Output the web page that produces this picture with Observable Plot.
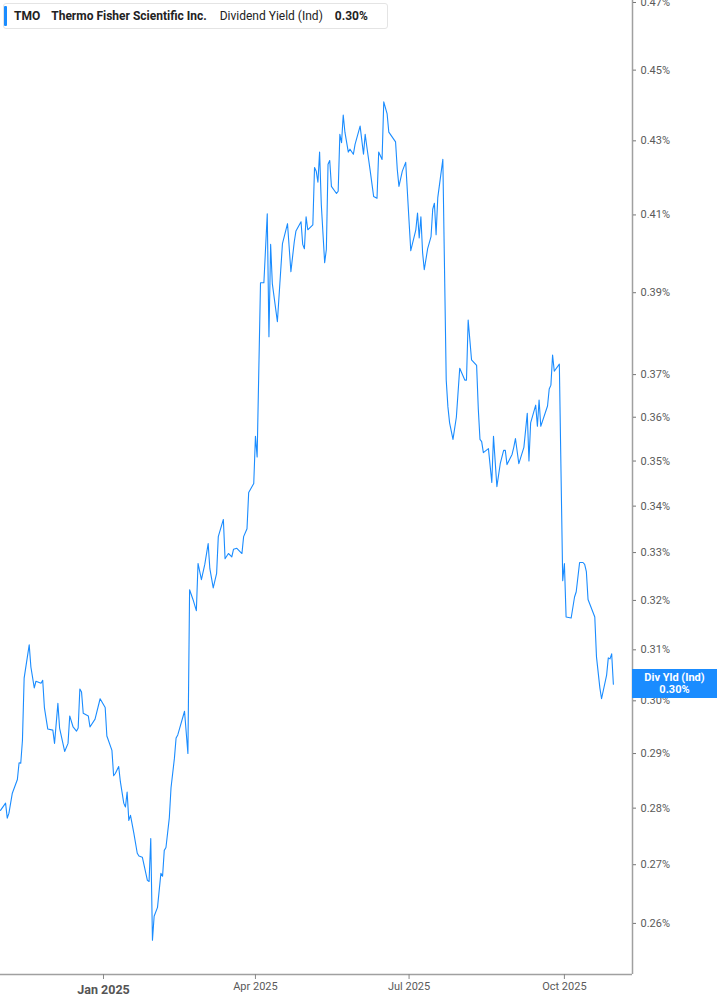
<!DOCTYPE html>
<html>
<head>
<meta charset="utf-8">
<script src="https://cdn.jsdelivr.net/npm/d3@7"></script>
<script src="https://cdn.jsdelivr.net/npm/@observablehq/plot@0.6"></script>
<style>
  html, body { margin: 0; padding: 0; background: #fff; }
  #wrap { position: relative; width: 717px; height: 1005px; font-family: Roboto, "Noto Sans", sans-serif; }
  #header { position: absolute; left: 3px; top: 3px; width: 385px; height: 26px; box-sizing: border-box;
    border: 1px solid #e4e4e4; border-radius: 3px; background: #fff; font-size: 12px; color: #222;
    display: flex; align-items: center; white-space: nowrap; }
  #header .bar { position: absolute; left: 0; top: 2px; bottom: 2px; width: 3px; background: #1a8cff; border-radius: 1px; }
  #header span { display: inline-block; }
  #badge { position: absolute; left: 632px; width: 85px; height: 29px; background: #1a8cff; color: #fff;
    font-size: 11px; font-weight: bold; text-align: center; line-height: 12px; box-sizing: border-box; padding-top: 3px; }
</style>
</head>
<body>
<div id="wrap">
  <div id="chart"></div>
  <div id="header"><div class="bar"></div>
    <span style="margin-left:10px;font-weight:bold">TMO</span>
    <span style="margin-left:11px;font-weight:bold">Thermo Fisher Scientific Inc.</span>
    <span style="margin-left:13px">Dividend Yield (Ind)</span>
    <span style="margin-left:12px;font-weight:bold">0.30%</span>
  </div>
  <div id="badge">Div Yld (Ind)<br>0.30%</div>
</div>
<script>
const dates = [
"2024-11-01","2024-11-04","2024-11-05","2024-11-06","2024-11-08","2024-11-11","2024-11-12","2024-11-13","2024-11-14","2024-11-15",
"2024-11-18","2024-11-19","2024-11-21","2024-11-22","2024-11-25","2024-11-26","2024-11-27","2024-11-29","2024-12-02","2024-12-03",
"2024-12-05","2024-12-06","2024-12-09","2024-12-11","2024-12-12","2024-12-14","2024-12-16","2024-12-17","2024-12-18","2024-12-19",
"2024-12-20","2024-12-23","2024-12-24","2024-12-27","2024-12-30","2025-01-02","2025-01-03","2025-01-06","2025-01-07","2025-01-08",
"2025-01-10","2025-01-11","2025-01-13","2025-01-14","2025-01-15","2025-01-16","2025-01-17","2025-01-19","2025-01-21","2025-01-22",
"2025-01-24","2025-01-27","2025-01-28","2025-01-29","2025-01-30","2025-01-31","2025-02-02","2025-02-04","2025-02-05","2025-02-06",
"2025-02-07","2025-02-09","2025-02-10","2025-02-12","2025-02-13","2025-02-14","2025-02-18","2025-02-20","2025-02-21","2025-02-23",
"2025-02-25","2025-02-26","2025-02-28","2025-03-02","2025-03-04","2025-03-05","2025-03-07","2025-03-09","2025-03-10","2025-03-13",
"2025-03-14","2025-03-16","2025-03-18","2025-03-19","2025-03-21","2025-03-24","2025-03-25","2025-03-27","2025-03-28","2025-03-31",
"2025-04-01","2025-04-02","2025-04-04","2025-04-06","2025-04-08","2025-04-09","2025-04-10","2025-04-11","2025-04-14","2025-04-17",
"2025-04-20","2025-04-22","2025-04-24","2025-04-25","2025-04-28","2025-04-29","2025-04-30","2025-05-01","2025-05-02","2025-05-05",
"2025-05-06","2025-05-07","2025-05-08","2025-05-09","2025-05-10","2025-05-12","2025-05-13","2025-05-14","2025-05-15","2025-05-16",
"2025-05-19","2025-05-20","2025-05-21","2025-05-22","2025-05-23","2025-05-24","2025-05-26","2025-05-27","2025-05-29","2025-05-30",
"2025-06-02","2025-06-04","2025-06-05","2025-06-06","2025-06-08","2025-06-10","2025-06-12","2025-06-13","2025-06-15","2025-06-16",
"2025-06-18","2025-06-19","2025-06-23","2025-06-24","2025-06-25","2025-06-27","2025-06-29","2025-07-01","2025-07-02","2025-07-05",
"2025-07-06","2025-07-07","2025-07-08","2025-07-09","2025-07-10","2025-07-12","2025-07-14","2025-07-15","2025-07-16","2025-07-17",
"2025-07-18","2025-07-21","2025-07-23","2025-07-24","2025-07-25","2025-07-27","2025-07-29","2025-07-31","2025-08-03","2025-08-04",
"2025-08-05","2025-08-07","2025-08-10","2025-08-11","2025-08-12","2025-08-13","2025-08-14","2025-08-17","2025-08-19","2025-08-20",
"2025-08-22","2025-08-24","2025-08-26","2025-08-27","2025-08-28","2025-08-31","2025-09-01","2025-09-02","2025-09-04","2025-09-07",
"2025-09-09","2025-09-10","2025-09-11","2025-09-14","2025-09-15","2025-09-16","2025-09-17","2025-09-21","2025-09-22","2025-09-23",
"2025-09-24","2025-09-25","2025-09-28","2025-09-30","2025-10-01","2025-10-02","2025-10-05","2025-10-07","2025-10-08","2025-10-10",
"2025-10-12","2025-10-13","2025-10-14","2025-10-15","2025-10-19","2025-10-20","2025-10-22","2025-10-23","2025-10-26","2025-10-27",
"2025-10-28","2025-10-29","2025-10-30"
];
const yields = [
0.2796,0.2809,0.2782,0.2791,0.2827,0.2852,0.2883,0.2882,0.2925,0.3044,
0.3110,0.3066,0.3025,0.3038,0.3034,0.3040,0.2987,0.2946,0.2944,0.2919,
0.2995,0.2948,0.2904,0.2919,0.2971,0.2950,0.2942,0.2948,0.3023,0.3017,
0.2976,0.2971,0.2950,0.2965,0.3004,0.2987,0.2933,0.2906,0.2859,0.2863,
0.2876,0.2848,0.2809,0.2802,0.2829,0.2778,0.2787,0.2755,0.2720,0.2715,
0.2713,0.2673,0.2671,0.2746,0.2572,0.2612,0.2627,0.2685,0.2680,0.2725,
0.2730,0.2783,0.2837,0.2891,0.2929,0.2935,0.2980,0.2900,0.3222,0.3202,
0.3179,0.3277,0.3243,0.3275,0.3319,0.3266,0.3226,0.3256,0.3334,0.3371,
0.3287,0.3298,0.3291,0.3307,0.3309,0.3298,0.3334,0.3351,0.3430,0.3450,
0.3556,0.3509,0.3925,0.3925,0.4103,0.3791,0.4023,0.3923,0.3828,0.4025,
0.4077,0.3953,0.4030,0.4058,0.4082,0.4023,0.4012,0.4095,0.4061,0.4074,
0.4227,0.4217,0.4187,0.4269,0.4128,0.3976,0.4010,0.4236,0.4246,0.4176,
0.4157,0.4163,0.4318,0.4295,0.4372,0.4324,0.4269,0.4277,0.4263,0.4290,
0.4341,0.4263,0.4318,0.4283,0.4217,0.4149,0.4144,0.4269,0.4249,0.4409,
0.4375,0.4324,0.4297,0.4222,0.4176,0.4217,0.4241,0.4082,0.4007,0.4061,
0.4105,0.4040,0.4095,0.4002,0.3958,0.4012,0.4043,0.4115,0.4131,0.4048,
0.4146,0.4249,0.3687,0.3624,0.3587,0.3549,0.3600,0.3715,0.3687,0.3687,
0.3832,0.3735,0.3722,0.3619,0.3549,0.3544,0.3519,0.3528,0.3452,0.3556,
0.3443,0.3494,0.3524,0.3524,0.3492,0.3515,0.3531,0.3551,0.3494,0.3531,
0.3609,0.3500,0.3587,0.3628,0.3579,0.3640,0.3579,0.3626,0.3666,0.3675,
0.3747,0.3708,0.3725,0.3241,0.3277,0.3166,0.3164,0.3207,0.3218,0.3279,
0.3279,0.3275,0.3260,0.3202,0.3166,0.3086,0.3025,0.3004,0.3050,0.3084,
0.3082,0.3092,0.3032
];
const yTicks = [0.26,0.27,0.28,0.29,0.30,0.31,0.32,0.33,0.34,0.35,0.36,0.37,0.39,0.41,0.43,0.45,0.47];
const xTickLabels = ["2025-04-01","2025-07-01","2025-10-01"];
const xTickBold = ["2025-01-01"];
const xDomain = ["2024-11-01","2025-11-10T08:00"];
const yDomain = [0.2516, 0.4706];

const data = dates.map((d, i) => ({date: new Date(d), value: yields[i]}));
const fmtX = d3.utcFormat("%b %Y");

const chart = Plot.plot({
  width: 717,
  height: 1005,
  marginLeft: 0,
  marginRight: 85,
  marginTop: 0,
  marginBottom: 31,
  style: {fontFamily: "Roboto, 'Noto Sans', sans-serif", fontSize: "11px", color: "#555", background: "#fff"},
  x: {type: "utc", domain: xDomain.map(d => new Date(d)), label: null},
  y: {type: "log", domain: yDomain, label: null},
  marks: [
    Plot.lineY(data, {x: "date", y: "value", stroke: "#1a8cff", strokeWidth: 1.1, clip: true}),
    Plot.ruleY([yDomain[0]], {stroke: "#a0a0a0", strokeWidth: 1.5}),
    Plot.ruleX([new Date(xDomain[1])], {stroke: "#a0a0a0", strokeWidth: 1.5}),
    Plot.axisY(yTicks, {anchor: "right", tickSize: 3, tickPadding: 5, stroke: "#777", label: null,
      fill: "#5a5a5a", tickFormat: d => d.toFixed(2) + "%"}),
    Plot.axisX(xTickLabels.map(d => new Date(d)), {anchor: "bottom", tickSize: 5, tickPadding: 3, label: null,
      stroke: "#888", fill: "#5a5a5a", tickFormat: fmtX}),
    Plot.axisX(xTickBold.map(d => new Date(d)), {anchor: "bottom", tickSize: 5, tickPadding: 6, label: null,
      stroke: "#888", fill: "#555", fontWeight: "bold", fontSize: 12.5, tickFormat: fmtX})
  ]
});
document.getElementById("chart").appendChild(chart);

const yPos = chart.scale("y").apply(yields[yields.length - 1]);
document.getElementById("badge").style.top = (yPos - 14.5) + "px";
</script>
</body>
</html>
